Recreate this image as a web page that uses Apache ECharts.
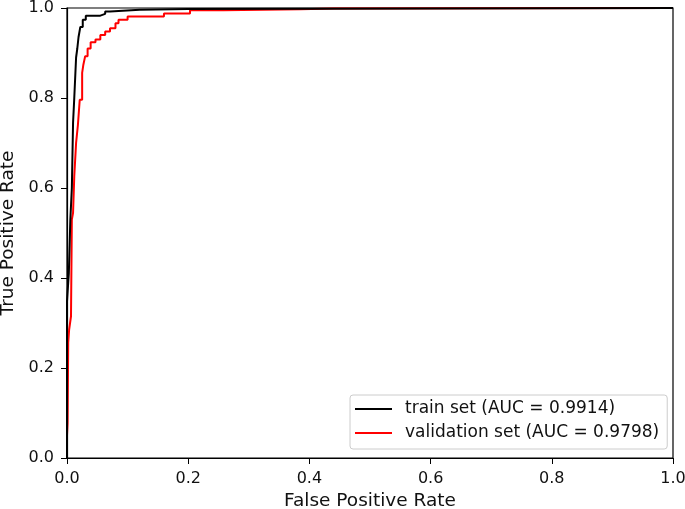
<!DOCTYPE html>
<html>
<head>
<meta charset="utf-8">
<script src="https://cdn.jsdelivr.net/npm/echarts@6/dist/echarts.min.js"></script>
<style>html,body{margin:0;padding:0;background:#fff}#c{width:685px;height:509px}</style>
</head>
<body>
<div id="c"></div>
<script>
var seriesNames = ['train set (AUC = 0.9914)', 'validation set (AUC = 0.9798)'];
var axisTicks = [0, 0.2, 0.4, 0.6, 0.8, 1.0];
var trainFpr = [0,0,0.003,0.003,0.0055,0.0055,0.008,0.008,0.01,0.01,0.012,0.012,0.015,0.015,0.017,0.017,0.019,0.019,0.022,0.022,0.026,0.026,0.031,0.031,0.055,0.055,0.063,0.063,0.071,0.071,0.12,0.12,0.2,0.2,1];
var trainTpr = [0,0.348,0.348,0.41,0.41,0.53,0.53,0.60,0.60,0.745,0.745,0.80,0.80,0.89,0.89,0.91,0.91,0.935,0.935,0.958,0.958,0.974,0.974,0.983,0.983,0.987,0.987,0.992,0.992,0.996,0.996,0.998,0.998,1,1];
var valFpr = [0,0,0.001,0.001,0.002,0.002,0.0035,0.0035,0.0066,0.0066,0.008,0.008,0.01,0.01,0.012,0.012,0.015,0.015,0.018,0.018,0.021,0.021,0.025,0.025,0.027,0.027,0.03,0.03,0.034,0.034,0.039,0.039,0.047,0.047,0.055,0.055,0.063,0.063,0.071,0.071,0.08,0.08,0.085,0.085,0.1,0.1,0.16,0.16,0.203,0.203,0.258,0.258,0.385,0.385,0.44,0.44,1];
var valTpr = [0,0.05,0.05,0.078,0.078,0.256,0.256,0.285,0.285,0.315,0.315,0.53,0.53,0.545,0.545,0.626,0.626,0.70,0.70,0.74,0.74,0.796,0.796,0.856,0.856,0.874,0.874,0.893,0.893,0.91,0.91,0.924,0.924,0.93,0.93,0.94,0.94,0.948,0.948,0.955,0.955,0.966,0.966,0.974,0.974,0.981,0.981,0.988,0.988,0.995,0.995,0.997,0.997,0.999,0.999,1,1];

function zip(a, b) { return a.map(function (v, i) { return [v, b[i]]; }); }

var font = 'DejaVu Sans';
var txt = '#111';
var chart = echarts.init(document.getElementById('c'));
chart.setOption({
  animation: false,
  backgroundColor: '#fff',
  grid: { left: 67, right: 12, top: 8, bottom: 51, containLabel: false, outerBoundsMode: 'none',
          show: true, borderColor: '#000', borderWidth: 1.2, backgroundColor: 'transparent' },
  xAxis: {
    type: 'value', min: axisTicks[0], max: axisTicks[axisTicks.length - 1], interval: 0.2,
    name: 'False Positive Rate', nameLocation: 'middle', nameGap: 33,
    nameTextStyle: { fontFamily: font, fontSize: 18.5, color: txt },
    axisLine: { show: true, onZero: false, lineStyle: { color: '#000', width: 1.2 } },
    axisTick: { show: true, length: 6, inside: false, lineStyle: { color: '#000' } },
    axisLabel: { fontFamily: font, fontSize: 16, color: txt, margin: 13, formatter: function (v) { return v.toFixed(1); } },
    splitLine: { show: false }
  },
  yAxis: {
    type: 'value', min: axisTicks[0], max: axisTicks[axisTicks.length - 1], interval: 0.2,
    name: 'True Positive Rate', nameLocation: 'middle', nameGap: 48,
    nameTextStyle: { fontFamily: font, fontSize: 18.5, color: txt },
    axisLine: { show: true, onZero: false, lineStyle: { color: '#000', width: 1.2 } },
    axisTick: { show: true, length: 6, inside: false, lineStyle: { color: '#000' } },
    axisLabel: { fontFamily: font, fontSize: 16, color: txt, margin: 13, formatter: function (v) { return v.toFixed(1); } },
    splitLine: { show: false }
  },
  legend: {
    orient: 'vertical', left: 350, top: 395,
    padding: [4, 8, 6, 5], itemGap: 4,
    itemWidth: 37, itemHeight: 2, icon: 'rect', itemStyle: { borderWidth: 0 },
    backgroundColor: '#fff', borderColor: '#ccc', borderWidth: 1, borderRadius: 3,
    textStyle: { fontFamily: font, fontSize: 17, color: txt, lineHeight: 20, padding: [0, 0, 0, 8] },
    data: seriesNames
  },
  series: [
    { name: seriesNames[0], type: 'line', data: zip(trainFpr, trainTpr), showSymbol: false, symbol: 'none', clip: false,
      lineStyle: { color: '#000', width: 2 }, itemStyle: { color: '#000' }, z: 3 },
    { name: seriesNames[1], type: 'line', data: zip(valFpr, valTpr), showSymbol: false, symbol: 'none', clip: false,
      lineStyle: { color: '#ff0000', width: 2 }, itemStyle: { color: '#ff0000' }, z: 2 }
  ]
});
</script>
</body>
</html>
